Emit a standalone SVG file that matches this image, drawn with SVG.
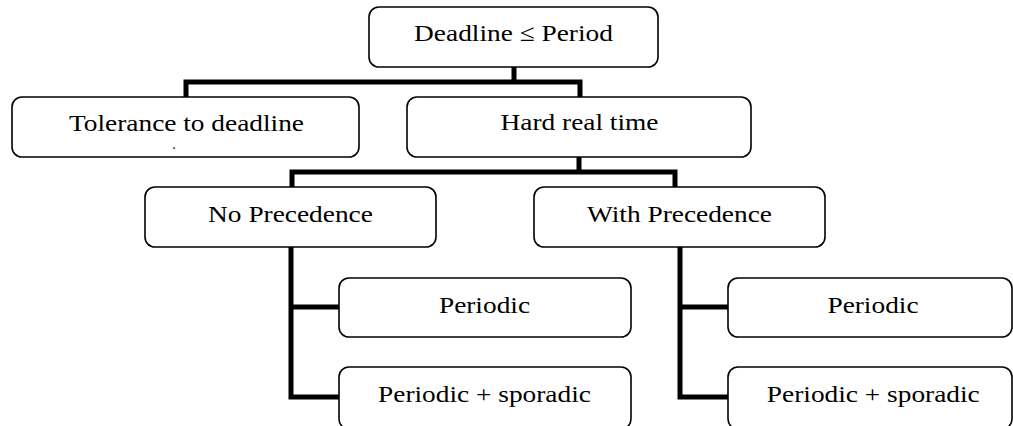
<svg xmlns="http://www.w3.org/2000/svg" width="1013" height="426" viewBox="0 0 1013 426">
<style>
.box{fill:#fff;stroke:#000;stroke-width:1.6}
text{font-family:'Liberation Serif','Times New Roman',serif;font-size:24px;fill:#000;text-anchor:middle}
.conn{fill:none;stroke:#000;stroke-width:5;stroke-linejoin:miter;stroke-linecap:butt}
</style>
<rect width="1013" height="426" fill="#fff"/>
<g id="connectors">
<path class="conn" d="M514 67 V82 M186 97 V82 H580 V97"/>
<path class="conn" d="M579 157 V172 M292 188 V172 H675 V188"/>
<path class="conn" d="M291 247 V397 H339 M291 307 H339"/>
<path class="conn" d="M680 247 V397 H728 M680 307 H728"/>
</g>
<g id="n-deadline"><rect class="box" x="369" y="7" width="289" height="60" rx="10"/><text x="513.5" y="41" transform="translate(513.5 41) scale(1.14 1) translate(-513.5 -41)">Deadline ≤ Period</text></g>
<g id="n-tolerance"><rect class="box" x="12" y="97" width="347" height="60" rx="10"/><text x="186.5" y="131" transform="translate(186.5 131) scale(1.14 1) translate(-186.5 -131)">Tolerance to deadline</text><text x="174" y="149" style="font-size:14px">.</text></g>
<g id="n-hard"><rect class="box" x="407" y="97" width="344" height="60" rx="10"/><text x="579.5" y="130" transform="translate(579.5 130) scale(1.14 1) translate(-579.5 -130)">Hard real time</text></g>
<g id="n-noprec"><rect class="box" x="145" y="187" width="291" height="60" rx="10"/><text x="290.5" y="222" transform="translate(290.5 222) scale(1.14 1) translate(-290.5 -222)">No Precedence</text></g>
<g id="n-withprec"><rect class="box" x="534" y="187" width="291" height="60" rx="10"/><text x="679.5" y="222" transform="translate(679.5 222) scale(1.14 1) translate(-679.5 -222)">With Precedence</text></g>
<g id="n-periodic-l"><rect class="box" x="339" y="278" width="292" height="59" rx="10"/><text x="484.5" y="313" transform="translate(484.5 313) scale(1.14 1) translate(-484.5 -313)">Periodic</text></g>
<g id="n-sporadic-l"><rect class="box" x="339" y="367" width="292" height="62" rx="10"/><text x="484.5" y="402" transform="translate(484.5 402) scale(1.14 1) translate(-484.5 -402)">Periodic + sporadic</text></g>
<g id="n-periodic-r"><rect class="box" x="728" y="278" width="284" height="59" rx="10"/><text x="873" y="313" transform="translate(873 313) scale(1.14 1) translate(-873 -313)">Periodic</text></g>
<g id="n-sporadic-r"><rect class="box" x="728" y="367" width="284" height="62" rx="10"/><text x="873.3" y="402" transform="translate(873.3 402) scale(1.14 1) translate(-873.3 -402)">Periodic + sporadic</text></g>
</svg>
